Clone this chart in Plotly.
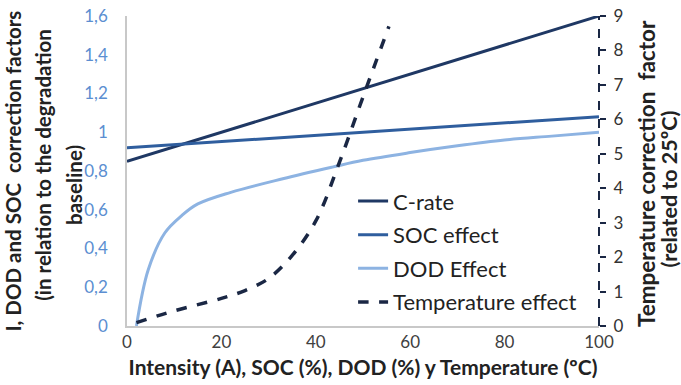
import plotly.graph_objects as go

# ---- data ----
x_lin = [0, 100]
c_rate = [0.85, 1.60]
soc_effect = [0.92, 1.08]

dod_x = [2, 4.5, 8, 11.6, 15, 22, 33, 43.5, 50, 60, 70, 80, 90, 100]
dod_y = [0.0, 0.29, 0.48, 0.57, 0.63, 0.69, 0.76, 0.82, 0.855, 0.895, 0.93, 0.96, 0.98, 1.0]

temp_x = [2, 10, 20, 25, 30, 35, 40, 45, 50, 55.5]
temp_y = [0.1, 0.44, 0.8, 1.03, 1.38, 2.05, 3.05, 4.75, 6.65, 8.7]

left_ticks = [0, 0.2, 0.4, 0.6, 0.8, 1.0, 1.2, 1.4, 1.6]
left_ticktext = ["0", "0,2", "0,4", "0,6", "0,8", "1", "1,2", "1,4", "1,6"]
right_ticks = list(range(0, 10))
x_ticks = [0, 20, 40, 60, 80, 100]

left_title_lines = ["I, DOD and SOC\u00a0\u00a0correction factors",
                    "(in relation to the degradation",
                    "baseline)"]
right_title_lines = ["Temperature correction\u00a0\u00a0factor",
                     "(related to 25ºC)"]
x_title = "Intensity (A), SOC (%), DOD (%) y Temperature (ºC)"

FONT = "Lato, Open Sans, sans-serif"

fig = go.Figure()
fig.add_trace(go.Scatter(x=x_lin, y=c_rate, mode="lines", name="C-rate",
                         legendgroup="a", line=dict(color="#1f3864", width=3)))
fig.add_trace(go.Scatter(x=x_lin, y=soc_effect, mode="lines", name="SOC effect",
                         legendgroup="b", line=dict(color="#2f5e9e", width=3)))
fig.add_trace(go.Scatter(x=dod_x, y=dod_y, mode="lines", name="DOD Effect",
                         legendgroup="c", line=dict(color="#8db3e2", width=3, shape="spline")))
fig.add_trace(go.Scatter(x=temp_x, y=temp_y, mode="lines", name="Temperature effect",
                         legendgroup="d", yaxis="y2",
                         line=dict(color="#1a2744", width=3.5, dash="dash", shape="spline")))

fig.update_layout(
    width=681, height=385,
    margin=dict(l=127, r=82, t=16, b=59),
    paper_bgcolor="white", plot_bgcolor="white",
    font=dict(family=FONT, size=16, color="#333333"),
    xaxis=dict(range=[0, 100], tickvals=x_ticks, showgrid=False, zeroline=False,
               showline=True, linecolor="#c8c8c8", linewidth=1.5, automargin=False,
               ticklabeloverflow="allow",
               tickfont=dict(size=17, color="#404040"),
               title=dict(text="<b>" + x_title + "</b>",
                          font=dict(size=21, color="#222222"), standoff=9)),
    yaxis=dict(range=[0, 1.6], tickvals=left_ticks, ticktext=left_ticktext,
               showgrid=False, zeroline=False, showline=True, linecolor="#c8c8c8",
               linewidth=1.5, ticks="", ticklabelstandoff=14, automargin=False,
               ticklabeloverflow="allow",
               tickfont=dict(size=17, color="#5b8ed1")),
    yaxis2=dict(range=[0, 9], tickvals=right_ticks, overlaying="y", side="right",
                showgrid=False, zeroline=False, showline=False, automargin=False,
                ticks="outside", ticklen=6, tickcolor="#1a2744", tickwidth=2,
                ticklabelstandoff=4, ticklabeloverflow="allow",
                tickfont=dict(size=17, color="#333333")),
    legend=dict(x=0.479, y=0.47, xanchor="left", yanchor="top",
                bgcolor="rgba(0,0,0,0)", font=dict(size=22, color="#222222"),
                tracegroupgap=2),
    showlegend=True,
)

# axis titles, one line each, placed outside the plot area
plot_l, plot_w = 127, 472  # px of plot area (for title placement only)
def px_to_paper(px):
    return (px - plot_l) / plot_w

left_x_px = [12.5, 43, 74]
left_y = [0.50, 0.52, 0.455]
left_sizes = [20.5, 20.5, 20.5]
for line, xp, yp, fs in zip(left_title_lines, left_x_px, left_y, left_sizes):
    fig.add_annotation(text="<b>" + line + "</b>", xref="paper", yref="paper",
                       x=px_to_paper(xp), y=yp, textangle=-90, showarrow=False,
                       xanchor="center", yanchor="middle",
                       font=dict(size=fs, color="#222222"))
right_x_px = [646, 669]
right_y = [0.49, 0.44]
right_sizes = [22.5, 21.5]
for line, xp, yp, fs in zip(right_title_lines, right_x_px, right_y, right_sizes):
    fig.add_annotation(text="<b>" + line + "</b>", xref="paper", yref="paper",
                       x=px_to_paper(xp), y=yp, textangle=-90, showarrow=False,
                       xanchor="center", yanchor="middle",
                       font=dict(size=fs, color="#222222"))

fig.add_shape(type="line", xref="paper", yref="paper", x0=1, x1=1, y0=0, y1=1,
              line=dict(color="#1a2744", width=2, dash="dash"))

fig.write_html("out.html", config={"displayModeBar": False},
               post_script="document.body.style.margin='0';document.body.style.overflow='hidden';")
